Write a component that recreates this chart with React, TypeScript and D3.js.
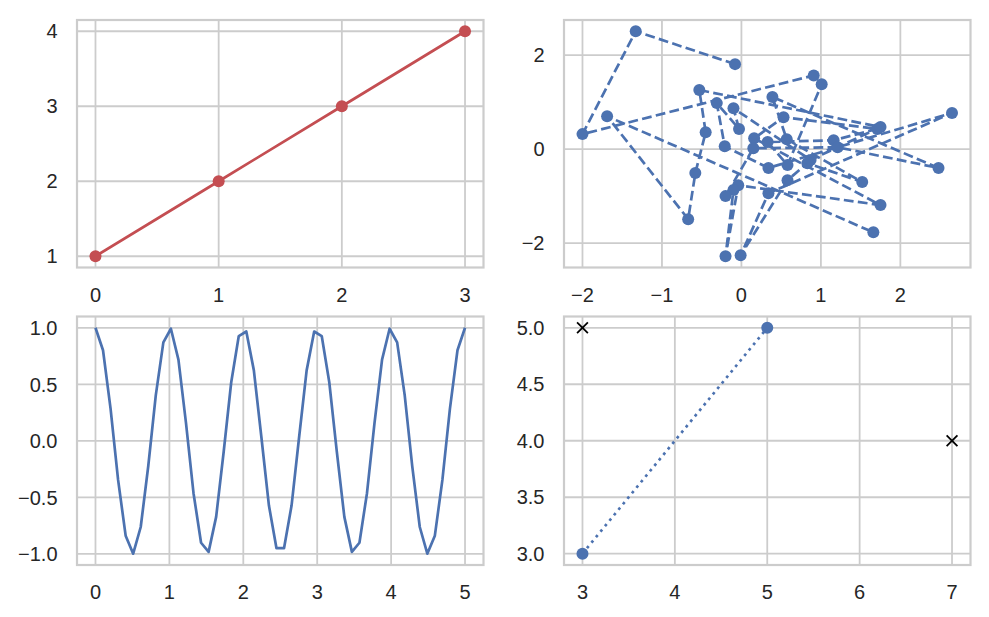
import React from "react";
import * as d3 from "d3";

// ---------- data ----------
const lineX = [0, 1, 2, 3];
const lineY = [1, 2, 3, 4];

// random walk-like scatter (order = drawing order)
const scatX = [-0.08, -1.33, -2.0, 0.91, 1.01, 0.58, 0.33, 1.16, 1.71, 0.53, 0.16, 1.75, -0.04, -0.2, -0.1, -0.2, 0.15, 1.21, 2.48, 0.39, 0.57, 1.52, 0.83, 0.58, -0.01, 0.34, 2.65, 0.34, -0.21, -0.31, -0.03, -0.1, 0.87, 1.75, -0.53, -0.45, -0.58, -0.67, -1.69, 1.66];
const scatY = [1.81, 2.51, 0.32, 1.57, 1.38, -0.34, 0.15, 0.19, 0.43, 0.68, 0.23, -1.19, -0.77, -2.28, -0.87, -1.0, 0.02, 0.04, -0.4, 1.11, 0.21, -0.7, -0.3, -0.66, -2.26, -0.94, 0.77, -0.4, 0.06, 0.98, 0.43, 0.87, -0.23, 0.47, 1.26, 0.36, -0.51, -1.49, 0.7, -1.77];

const waveX = [0, 0.102, 0.2041, 0.3061, 0.4082, 0.5102, 0.6122, 0.7143, 0.8163, 0.9184, 1.0204, 1.1224, 1.2245, 1.3265, 1.4286, 1.5306, 1.6327, 1.7347, 1.8367, 1.9388, 2.0408, 2.1429, 2.2449, 2.3469, 2.449, 2.551, 2.6531, 2.7551, 2.8571, 2.9592, 3.0612, 3.1633, 3.2653, 3.3673, 3.4694, 3.5714, 3.6735, 3.7755, 3.8776, 3.9796, 4.0816, 4.1837, 4.2857, 4.3878, 4.4898, 4.5918, 4.6939, 4.7959, 4.898, 5.0];
const waveY = [1, 0.8016, 0.2845, -0.3453, -0.8382, -0.9979, -0.7617, -0.2225, 0.4048, 0.8713, 0.9918, 0.7183, 0.1596, -0.4626, -0.901, -0.9815, -0.6723, -0.096, 0.5183, 0.9269, 0.9673, 0.6235, 0.0321, -0.572, -0.9491, -0.9491, -0.572, 0.0321, 0.6235, 0.9673, 0.9269, 0.5183, -0.096, -0.6723, -0.9815, -0.901, -0.4626, 0.1596, 0.7183, 0.9918, 0.8713, 0.4048, -0.2225, -0.7617, -0.9979, -0.8382, -0.3453, 0.2845, 0.8016, 1];

const dotX = [3, 5];
const dotY = [3, 5];
const crossX = [3, 7];
const crossY = [5, 4];

const ticksTLx = [0, 1, 2, 3];
const ticksTLy = [1, 2, 3, 4];
const ticksTRx = [-2, -1, 0, 1, 2];
const ticksTRy = [-2, 0, 2];
const ticksBLx = [0, 1, 2, 3, 4, 5];
const ticksBLy = [-1, -0.5, 0, 0.5, 1];
const ticksBRx = [3, 4, 5, 6, 7];
const ticksBRy = [3, 3.5, 4, 4.5, 5];

// ---------- style ----------
const BLUE = "#4C72B0";
const RED = "#C44E52";
const GRID = "#cccccc";
const TXT = "#262626";
const FONT = "'Liberation Sans', Arial, sans-serif";
const FS = 20;
const LW = 2.7;
const MR = 6;

const fmtInt = (v: number) => (v < 0 ? "\u2212" + Math.abs(v) : String(v));
const fmt1 = (v: number) => (v < 0 ? "\u2212" + Math.abs(v).toFixed(1) : v.toFixed(1));

function pad(ext: [number, number]): [number, number] {
  const r = ext[1] - ext[0];
  return [ext[0] - 0.05 * r, ext[1] + 0.05 * r];
}

type Box = { l: number; r: number; t: number; b: number };

function Panel(props: {
  box: Box;
  x: d3.ScaleLinear<number, number>;
  y: d3.ScaleLinear<number, number>;
  xt: number[];
  yt: number[];
  fx: (v: number) => string;
  fy: (v: number) => string;
  id: string;
  children?: React.ReactNode;
}) {
  const { box, x, y, xt, yt, fx, fy, id } = props;
  return (
    <g>
      <defs>
        <clipPath id={id}>
          <rect x={box.l} y={box.t} width={box.r - box.l} height={box.b - box.t} />
        </clipPath>
      </defs>
      {xt.map((t) => (
        <line key={"gx" + t} x1={x(t)} x2={x(t)} y1={box.t} y2={box.b} stroke={GRID} strokeWidth={1.8} />
      ))}
      {yt.map((t) => (
        <line key={"gy" + t} x1={box.l} x2={box.r} y1={y(t)} y2={y(t)} stroke={GRID} strokeWidth={1.8} />
      ))}
      <g clipPath={`url(#${id})`}>{props.children}</g>
      <rect x={box.l} y={box.t} width={box.r - box.l} height={box.b - box.t} fill="none" stroke={GRID} strokeWidth={2.2} />
      {xt.map((t) => (
        <text key={"tx" + t} x={x(t)} y={box.b + 20 + 0.72 * FS} textAnchor="middle" fontFamily={FONT} fontSize={FS} fill={TXT}>
          {fx(t)}
        </text>
      ))}
      {yt.map((t) => (
        <text key={"ty" + t} x={box.l - 19.5} y={y(t) + 0.36 * FS} textAnchor="end" fontFamily={FONT} fontSize={FS} fill={TXT}>
          {fy(t)}
        </text>
      ))}
    </g>
  );
}

export default function App() {
  const TL: Box = { l: 77, r: 483.5, t: 20, b: 267.5 };
  const TR: Box = { l: 564, r: 970.5, t: 20, b: 267.5 };
  const BL: Box = { l: 77, r: 483.5, t: 316.5, b: 565 };
  const BR: Box = { l: 564, r: 970.5, t: 316.5, b: 565 };

  const xTL = d3.scaleLinear().domain(pad(d3.extent(lineX) as [number, number])).range([TL.l, TL.r]);
  const yTL = d3.scaleLinear().domain(pad(d3.extent(lineY) as [number, number])).range([TL.b, TL.t]);
  const xTR = d3.scaleLinear().domain(pad(d3.extent(scatX) as [number, number])).range([TR.l, TR.r]);
  const yTR = d3.scaleLinear().domain(pad(d3.extent(scatY) as [number, number])).range([TR.b, TR.t]);
  const xBL = d3.scaleLinear().domain(pad(d3.extent(waveX) as [number, number])).range([BL.l, BL.r]);
  const yBL = d3.scaleLinear().domain(pad(d3.extent(waveY) as [number, number])).range([BL.b, BL.t]);
  const allBx = dotX.concat(crossX);
  const allBy = dotY.concat(crossY);
  const xBR = d3.scaleLinear().domain(pad(d3.extent(allBx) as [number, number])).range([BR.l, BR.r]);
  const yBR = d3.scaleLinear().domain(pad(d3.extent(allBy) as [number, number])).range([BR.b, BR.t]);

  const mk = (xs: number[], ys: number[], sx: any, sy: any) =>
    d3.line<number>().x((_, i) => sx(xs[i])).y((_, i) => sy(ys[i]))(xs) || "";

  return (
    <svg width={989} height={617} style={{ position: "absolute", left: 0, top: 0, background: "#fff" }}>
      <rect width={989} height={617} fill="#fff" />
      <Panel box={TL} x={xTL} y={yTL} xt={ticksTLx} yt={ticksTLy} fx={fmtInt} fy={fmtInt} id="c1">
        <path d={mk(lineX, lineY, xTL, yTL)} fill="none" stroke={RED} strokeWidth={LW} />
        {lineX.map((v, i) => (
          <circle key={i} cx={xTL(v)} cy={yTL(lineY[i])} r={MR} fill={RED} />
        ))}
      </Panel>
      <Panel box={TR} x={xTR} y={yTR} xt={ticksTRx} yt={ticksTRy} fx={fmtInt} fy={fmtInt} id="c2">
        <path d={mk(scatX, scatY, xTR, yTR)} fill="none" stroke={BLUE} strokeWidth={LW} strokeDasharray="9.8,4.3" />
        {scatX.map((v, i) => (
          <circle key={i} cx={xTR(v)} cy={yTR(scatY[i])} r={MR} fill={BLUE} />
        ))}
      </Panel>
      <Panel box={BL} x={xBL} y={yBL} xt={ticksBLx} yt={ticksBLy} fx={fmtInt} fy={fmt1} id="c3">
        <path d={mk(waveX, waveY, xBL, yBL)} fill="none" stroke={BLUE} strokeWidth={LW} strokeLinejoin="round" />
      </Panel>
      <Panel box={BR} x={xBR} y={yBR} xt={ticksBRx} yt={ticksBRy} fx={fmtInt} fy={fmt1} id="c4">
        <path d={mk(dotX, dotY, xBR, yBR)} fill="none" stroke={BLUE} strokeWidth={LW} strokeDasharray="2.7,4.4" />
        {dotX.map((v, i) => (
          <circle key={i} cx={xBR(v)} cy={yBR(dotY[i])} r={MR} fill={BLUE} />
        ))}
        {crossX.map((v, i) => {
          const cx = xBR(v);
          const cy = yBR(crossY[i]);
          const s = 5.4;
          return (
            <g key={i} stroke="#000" strokeWidth={1.8}>
              <line x1={cx - s} y1={cy - s} x2={cx + s} y2={cy + s} />
              <line x1={cx - s} y1={cy + s} x2={cx + s} y2={cy - s} />
            </g>
          );
        })}
      </Panel>
    </svg>
  );
}
